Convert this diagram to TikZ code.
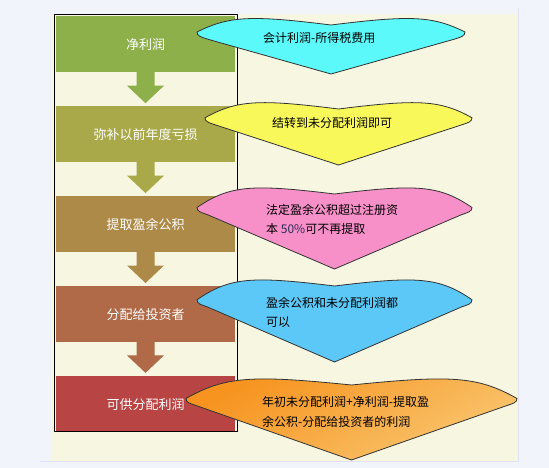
\documentclass[tikz,border=0pt]{standalone}
\usepackage{fontspec}
\usepackage{tikz}
\usetikzlibrary{calc}
\usetikzlibrary{positioning}
\newfontfamily\cjk{Noto Sans CJK SC}
\definecolor{pagebg}{HTML}{F1F5FB}
\definecolor{cream}{HTML}{F6F6E1}
\definecolor{bargreen}{HTML}{8EB04B}
\definecolor{barolive}{HTML}{A9A94A}
\definecolor{barbrown}{HTML}{AE8A48}
\definecolor{barrust}{HTML}{B06A48}
\definecolor{barred}{HTML}{B84444}
\definecolor{callcyan}{HTML}{5BF9F9}
\definecolor{callyellow}{HTML}{F8F85A}
\definecolor{callpink}{HTML}{F78FC8}
\definecolor{callblue}{HTML}{5BC8F8}
\definecolor{callorange}{HTML}{F7931E}
\definecolor{callpeach}{HTML}{F9C670}
\definecolor{percentblue}{HTML}{2A2C58}
\tikzset{node distance = 33.5pt,
  bar/.style = {minimum width = 179pt, minimum height = 56pt, inner sep = 0pt, text = white, font = \cjk\fontsize{13}{15}\selectfont},
  note/.style = {anchor = west, align = left, inner sep = 0pt, font = \cjk\fontsize{12}{19.5}\selectfont},
  callout/.style = {draw = black!80, line width = 0.8pt}}
% heart shaped note: left x, right x, top y, tip y, fill
\newcommand{\heartcall}[5]{%
  \pgfmathsetmacro\hm{(#1+#2)/2}%
  \pgfmathsetmacro\hw{#2-#1}%
  \pgfmathsetmacro\he{#3+0.25*(#4-#3)}%
  \draw [callout, #5] (\hm, #3+7) .. controls (\hm-0.3*\hw, #3-3) and (#1+0.12*\hw, #3-2) .. (#1, \he)
    .. controls (#1, \he+4) and (#1+4, \he+5) .. (#1+10, \he+7) -- (\hm, #4) -- (#2-10, \he+7)
    .. controls (#2-4, \he+5) and (#2, \he+4) .. (#2, \he)
    .. controls (#2-0.12*\hw, #3-2) and (\hm+0.3*\hw, #3-3) .. cycle;}
% block arrow from one bar to the next
\newcommand{\flowarrow}[3]{%
  \fill [#3] ($(#1.south) + (-9, -1)$) -- ($(#1.south) + (9, -1)$) -- ($(#1.south) + (9, 13)$)
    -- ($(#1.south) + (18.5, 13)$) -- ($(#2.north) + (0, -3)$) -- ($(#1.south) + (-18.5, 13)$)
    -- ($(#1.south) + (-9, 13)$) -- cycle;}

\begin{document}
\begin{tikzpicture}[x = 1pt, y = -1pt]
  \useasboundingbox (0, 0) rectangle (549, 468);
  \fill [pagebg] (0, 0) rectangle (549, 468);
  \fill [cream] (52, 14) rectangle (518, 461);
  \draw [blue!12] (518.5, 8) -- (518.5, 461.5) -- (40, 461.5);
  % steps
  \node [bar, fill = bargreen] (b1) at (145.5, 44.5) {净利润};
  \node [bar, fill = barolive, below = of b1] (b2) {弥补以前年度亏损};
  \node [bar, fill = barbrown, below = of b2] (b3) {提取盈余公积};
  \node [bar, fill = barrust, below = of b3] (b4) {分配给投资者};
  \node [bar, fill = barred, below = of b4] (b5) {可供分配利润};
  \flowarrow{b1}{b2}{bargreen}
  \flowarrow{b2}{b3}{barolive}
  \flowarrow{b3}{b4}{barbrown}
  \flowarrow{b4}{b5}{barrust}
  \draw [line width = 1pt] (54, 15) rectangle (237, 431.5);
  % notes
  \heartcall{197}{465}{18}{74}{fill = callcyan}
  \heartcall{205}{472}{102}{165}{fill = callyellow}
  \heartcall{197}{472}{187}{269}{fill = callpink}
  \heartcall{197}{472}{279}{362}{fill = callblue}
  \heartcall{186}{517}{378}{460}{top color = callorange, bottom color = callpeach, shading angle = 30}
  \node [note] (n1) at (263, 38) {会计利润-所得税费用};
  \node [note] (n2) at (272, 123) {结转到未分配利润即可};
  \node [note] (n3) at (266, 219.5) {法定盈余公积超过注册资\\本 {\color{percentblue}50\%}可不再提取};
  \node [note] (n4) at (266, 312.5) {盈余公积和未分配利润都\\可以};
  \node [note] (n5) at (262, 412) {年初未分配利润+净利润-提取盈\\余公积-分配给投资者的利润};
\end{tikzpicture}
\end{document}
